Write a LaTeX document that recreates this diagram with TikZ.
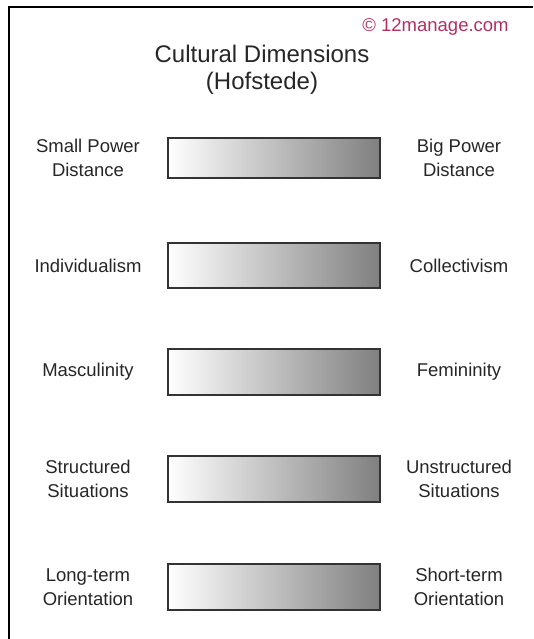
\documentclass[tikz,border=0pt]{standalone}
\usepackage{fontspec}
\setmainfont{Liberation Sans}
\definecolor{copyred}{RGB}{176,48,96}
\tikzset{
  scalebar/.style={draw=black!80, line width=1.5pt, left color=white, right color=black!50,
    minimum width=212pt, inner sep=0pt},
  pole/.style={align=center, inner sep=0pt, text=black!85, font=\fontsize{18.5}{24}\selectfont},
}
\begin{document}
\begin{tikzpicture}[x=1pt, y=-1pt, line width=2pt]
  \useasboundingbox (0,0) rectangle (533,639);
  % frame, open to the right and below
  \draw (533,7) -- (9,7) -- (9,639);
  \node[text=copyred, anchor=base east, font=\fontsize{18.5}{20}\selectfont] (copy) at (513,32) {© 12manage.com};
  \node[align=center, anchor=base, text=black!85, font=\fontsize{24}{27}\selectfont] (title) at (262,90) {Cultural Dimensions\\(Hofstede)};

  % five dimensions: left pole, scale, right pole
  \node[scalebar, minimum height=40pt] (bar1) at (274,158) {};
  \node[pole] (low1) at (88,158) {Small Power\\Distance};
  \node[pole] (high1) at (459,158) {Big Power\\Distance};

  \node[scalebar, minimum height=45pt] (bar2) at (274,265.5) {};
  \node[pole] (low2) at (88,265.5) {Individualism};
  \node[pole] (high2) at (459,265.5) {Collectivism};

  \node[scalebar, minimum height=46pt] (bar3) at (274,372) {};
  \node[pole] (low3) at (88,372) {Masculinity};
  \node[pole] (high3) at (459,372) {Femininity};

  \node[scalebar, minimum height=46pt] (bar4) at (274,479) {};
  \node[pole] (low4) at (88,479) {Structured\\Situations};
  \node[pole] (high4) at (459,479) {Unstructured\\Situations};

  \node[scalebar, minimum height=46pt] (bar5) at (274,587) {};
  \node[pole] (low5) at (88,587) {Long-term\\Orientation};
  \node[pole] (high5) at (459,587) {Short-term\\Orientation};
\end{tikzpicture}
\end{document}
